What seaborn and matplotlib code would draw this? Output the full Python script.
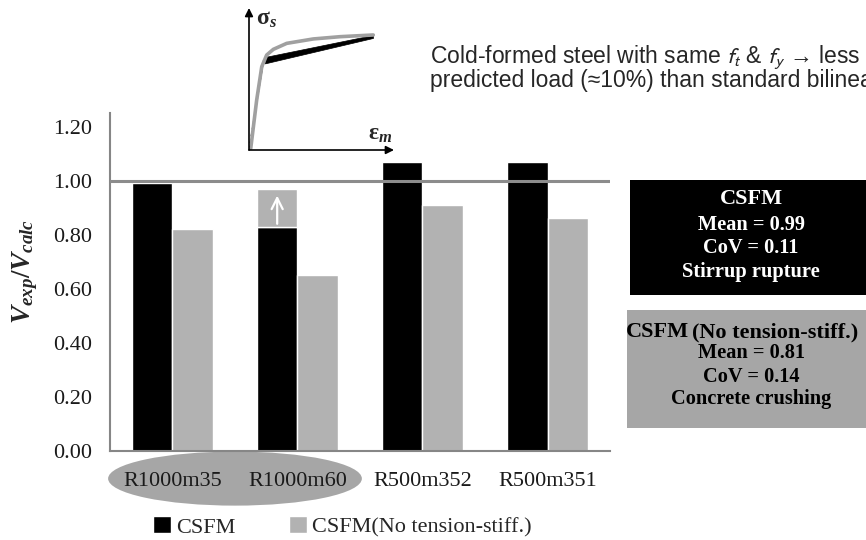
import numpy as np
import pandas as pd
import matplotlib
matplotlib.use("Agg")
import matplotlib.pyplot as plt
import seaborn as sns
from matplotlib.patches import Ellipse, Rectangle

# data
specimens = ["R1000m35", "R1000m60", "R500m352", "R500m351"]
csfm = [0.99, 0.83, 1.07, 1.07]
csfm_no_ts = [0.82, 0.65, 0.91, 0.86]
series = ["CSFM", "CSFM(No tension-stiff.)"]
r1000m60_target = 0.97  # gray extension above the R1000m60 CSFM bar
yticks = [0.0, 0.2, 0.4, 0.6, 0.8, 1.0, 1.2]

# schematic stress-strain inset (normalised units)
strain_cf = [0.012, 0.053, 0.088, 0.122, 0.168, 0.260, 0.443, 0.628, 0.857]
stress_cf = [0.012, 0.352, 0.587, 0.669, 0.709, 0.751, 0.782, 0.798, 0.810]
strain_bl_el = [0.0, 0.10]
stress_bl_el = [0.0, 0.63]
strain_bl_pl = [0.11, 0.855]
stress_bl_lo = [0.61, 0.789]
stress_bl_hi = [0.655, 0.81]

box_csfm = ["Mean = 0.99", "CoV = 0.11", "Stirrup rupture"]
box_nts = ["Mean = 0.81", "CoV = 0.14", "Concrete crushing"]

sns.set_style("white")
plt.rcParams["font.family"] = ["Liberation Serif", "DejaVu Serif"]
plt.rcParams["mathtext.fontset"] = "custom"
plt.rcParams["mathtext.rm"] = "Liberation Serif:bold"
plt.rcParams["mathtext.it"] = "Liberation Serif:italic:bold"
plt.rcParams["mathtext.bf"] = "Liberation Serif:bold"

BLACK = "#000000"
GRAY = "#b2b2b2"
DARKGRAY = "#a6a6a6"
AXCOL = "#868686"

df = pd.DataFrame({
    "specimen": specimens * 2,
    "ratio": csfm + csfm_no_ts,
    "model": [series[0]] * 4 + [series[1]] * 4,
})

fig = plt.figure(figsize=(8.66, 5.40), dpi=100)
ax = fig.add_axes([0.127, 0.1648, 0.5774, 0.6259])

sns.barplot(data=df, x="specimen", y="ratio", hue="model", order=specimens,
            hue_order=series, palette=[BLACK, GRAY], width=0.65, gap=0,
            saturation=1, errorbar=None, ax=ax)
handles, labels = ax.get_legend_handles_labels()
ax.legend_.remove()

# extension of R1000m60 bar with arrow
p = ax.containers[0][1]
base = csfm[1]
ax.bar(p.get_x(), r1000m60_target - base, bottom=base, width=p.get_width(),
       align="edge", color=GRAY, zorder=p.get_zorder())
cx = p.get_x() + p.get_width() / 2
ax.annotate("", xy=(cx, r1000m60_target - 0.015), xytext=(cx, base),
            arrowprops=dict(arrowstyle="->", color="white", lw=1.6,
                            mutation_scale=20), zorder=5)

ax.axhline(1.0, color="#8c8c8c", lw=2.2, zorder=4)

ax.set_ylim(0, 1.25)
ax.set_xlim(-0.5, 3.5)
ax.set_yticks(yticks)
ax.set_yticklabels([f"{v:.2f}" for v in yticks])
ax.set_xlabel("")
ax.set_ylabel("")
for s in ["top", "right"]:
    ax.spines[s].set_visible(False)
for s in ["left", "bottom"]:
    ax.spines[s].set_color(AXCOL)
    ax.spines[s].set_linewidth(1.5)
ax.tick_params(axis="y", direction="in", length=5, width=1.2, color=AXCOL,
               pad=13, labelsize=16, labelcolor="#1a1a1a")
ax.tick_params(axis="x", length=0, pad=15, labelsize=16, labelcolor="#1a1a1a")

# highlight ellipse behind first two labels
ax.add_patch(Ellipse((0.5, -0.102), 2.03, 0.2, facecolor=DARKGRAY,
                     edgecolor="none", clip_on=False, zorder=0))

fig.text(25 / 866, 0.497, r"$V_{exp}/V_{calc}$", rotation=90, fontsize=19.5,
         ha="center", va="center")

fig.legend(handles, labels, loc="center left",
           bbox_to_anchor=(153 / 866, 1 - 527 / 540), borderaxespad=0,
           borderpad=0, ncol=2, frameon=False,
           prop={"family": "Liberation Serif", "size": 16},
           handlelength=0.8, handleheight=0.8, handletextpad=0.25,
           columnspacing=2.4)

# summary boxes
fig.patches.append(Rectangle((0.7275, 0.4537), 0.2725, 0.213, facecolor=BLACK,
                             edgecolor="none", transform=fig.transFigure, figure=fig))
fig.patches.append(Rectangle((0.724, 0.2074), 0.276, 0.2185, facecolor=DARKGRAY,
                             edgecolor="none", transform=fig.transFigure, figure=fig))
bx = 751 / 866
fig.text(bx, 1 - 199 / 540, "CSFM", color="white", fontsize=16, fontweight="bold",
         ha="center", va="center")
for t, yy in zip(box_csfm, [225, 248, 272]):
    fig.text(bx, 1 - yy / 540, t, color="white", fontsize=14.7, fontweight="bold",
             ha="center", va="center")
fig.text(689 / 866, 1 - 332 / 540, "CSFM", color="black", fontsize=16,
         fontweight="bold", ha="right", va="center")
fig.text(692 / 866, 1 - 332 / 540, "(No tension-stiff.)", color="black",
         fontsize=16, fontweight="bold", ha="left", va="center")
for t, yy in zip(box_nts, [353, 377, 399]):
    fig.text(bx, 1 - yy / 540, t, color="black", fontsize=14.7, fontweight="bold",
             ha="center", va="center")

# top note
fig.text(430 / 866, 1 - 57 / 540,
         "Cold-formed steel with same $f_t$ & $f_y$ \u2192 less",
         family=["Liberation Sans", "DejaVu Sans"], math_fontfamily="stixsans",
         fontsize=16.5, ha="left", va="center")
fig.text(430 / 866, 1 - 80 / 540,
         "predicted load (\u224810%) than standard bilinear",
         family=["Liberation Sans", "DejaVu Sans"], fontsize=16.5,
         ha="left", va="center")

# inset stress-strain sketch
ins = fig.add_axes([249 / 866, 1 - 150 / 540, 145 / 866, 142 / 540])
ins.set_xlim(0, 1)
ins.set_ylim(0, 1)
ins.axis("off")
ins.patch.set_alpha(0)
ins.fill_between(strain_bl_pl, stress_bl_lo, stress_bl_hi, color="black", lw=0.5)
ins.plot(strain_bl_el, stress_bl_el, color="black", lw=1, ls=(0, (3, 2)))
sns.lineplot(x=strain_cf, y=stress_cf, color="#a0a0a0", lw=2.6, sort=False,
             estimator=None, ax=ins)
ins.annotate("", xy=(0, 1.0), xytext=(0, 0), xycoords="axes fraction",
             arrowprops=dict(arrowstyle="-|>", color="black", lw=1.2,
                             mutation_scale=12, shrinkA=0, shrinkB=0))
ins.annotate("", xy=(1.0, 0.0), xytext=(0, 0), xycoords="axes fraction",
             arrowprops=dict(arrowstyle="-|>", color="black", lw=1.2,
                             mutation_scale=12, shrinkA=0, shrinkB=0))
ins.text(0.05, 0.92, r"$\mathbf{\sigma}_s$", fontsize=17, ha="left", va="center",
         transform=ins.transAxes)
ins.text(0.82, 0.11, r"$\mathbf{\varepsilon}_m$", fontsize=17, ha="left",
         va="center", transform=ins.transAxes)

fig.savefig("out.png", dpi=100)
